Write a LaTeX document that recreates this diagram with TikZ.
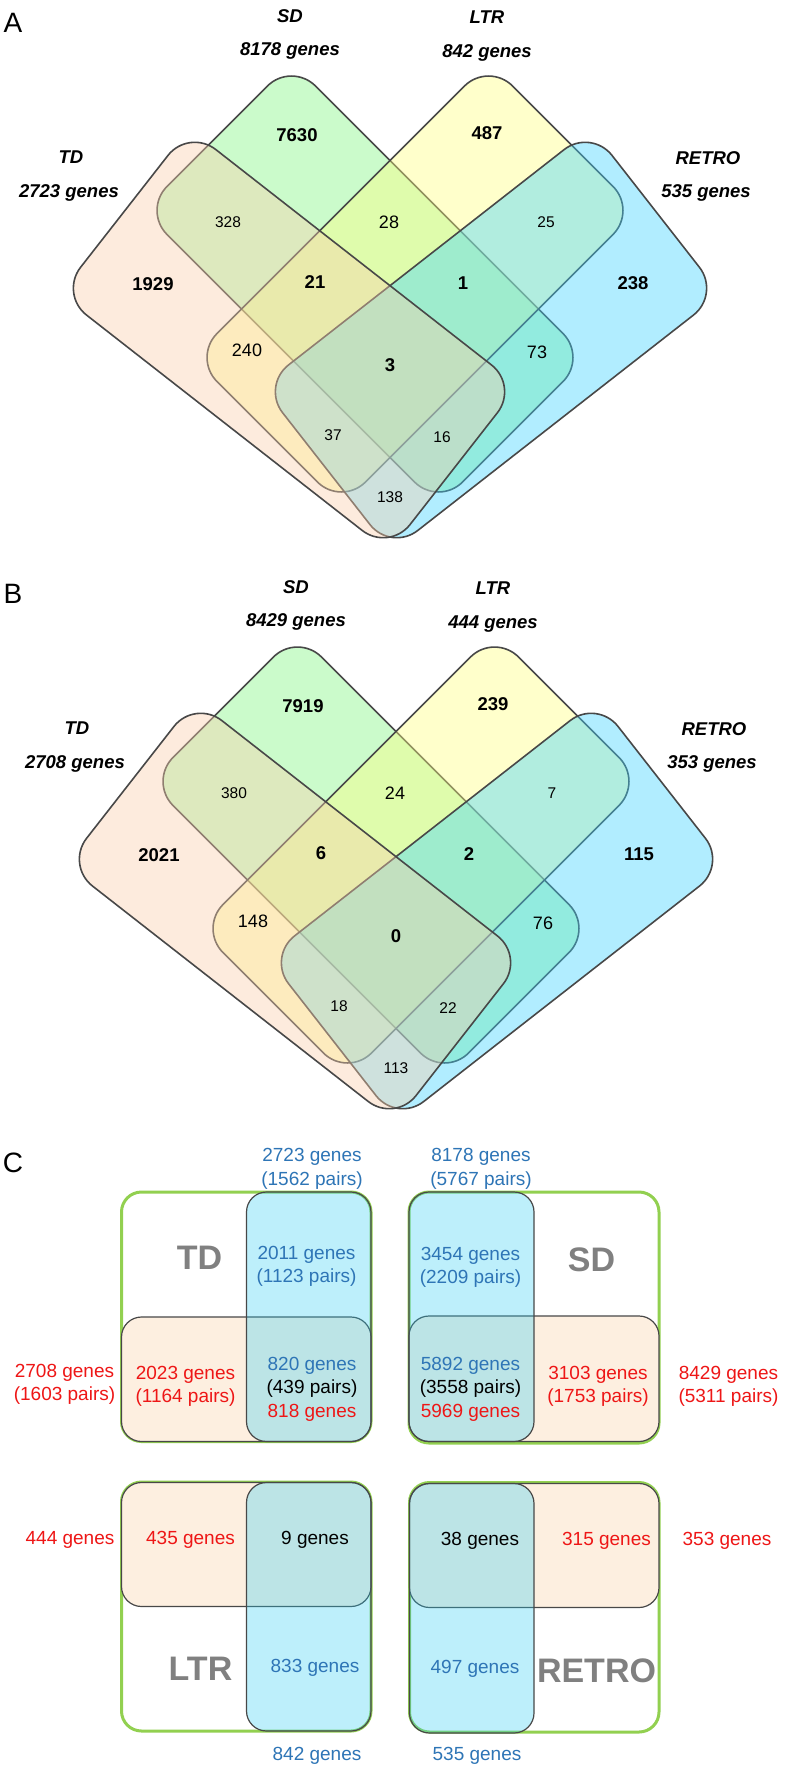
\documentclass[tikz,border=0pt]{standalone}
\usepackage{fontspec}
\setmainfont{Liberation Sans}

\definecolor{edgegray}{RGB}{72,72,72}
\definecolor{tdfill}{RGB}{250,207,172}
\definecolor{sdfill}{RGB}{127,247,127}
\definecolor{ltrfill}{RGB}{255,255,127}
\definecolor{retrofill}{RGB}{62,212,255}
\definecolor{boxgreen}{RGB}{146,208,80}
\definecolor{boxpeach}{RGB}{253,239,224}
\definecolor{boxblue}{RGB}{38,205,245}
\definecolor{txtblue}{RGB}{46,117,182}
\definecolor{txtred}{RGB}{238,22,22}
\definecolor{txtgray}{RGB}{128,128,128}

\tikzset{
  vennset/.style={draw=edgegray, line width=1.6pt, fill opacity=0.4, rounded corners=34pt},
  bignum/.style={font=\fontsize{18.5}{22}\selectfont\bfseries},
  midnum/.style={font=\fontsize{18}{22}\selectfont},
  smallnum/.style={font=\fontsize{15.5}{18}\selectfont},
  setname/.style={font=\fontsize{18.5}{22}\selectfont\bfseries\itshape},
  panelletter/.style={font=\fontsize{28}{32}\selectfont},
  outerbox/.style={draw=boxgreen, line width=3pt, rounded corners=20pt},
  rowbox/.style={draw=edgegray, line width=1.2pt, fill=boxpeach, rounded corners=20pt},
  colbox/.style={draw=edgegray, line width=1.2pt, fill=boxblue, fill opacity=0.3, rounded corners=20pt},
  count/.style={font=\fontsize{19}{23.5}\selectfont, align=center},
  bigname/.style={font=\fontsize{34}{38}\selectfont\bfseries, text=txtgray}
}

% the four rotated sets, drawn for panels A and B
\newcommand{\vennsets}{%
\filldraw[vennset, fill=sdfill, shift={(365,284)}, rotate=-45] (-209,-105) -- (209,-105) -- (209,105) -- (-209,105) -- cycle;
\filldraw[vennset, fill=ltrfill, shift={(415,284)}, rotate=45] (-209,-105) -- (209,-105) -- (209,105) -- (-209,105) -- cycle;
\filldraw[vennset, fill=retrofill, shift={(491,340)}, rotate=38] (-209,-105) -- (209,-105) -- (209,105) -- (-209,105) -- cycle;
\filldraw[vennset, fill=tdfill, shift={(289,340)}, rotate=-38] (-209,-105) -- (209,-105) -- (209,105) -- (-209,105) -- cycle;
}

\begin{document}
\begin{tikzpicture}[x=1pt, y=-1pt]
\fill[white] (0,0) rectangle (786,1766);
\useasboundingbox (0,0) rectangle (786,1766);

% A
\vennsets
\node[panelletter] (labA) at (13,23) {A};
\node[setname] (aSD) at (290,16) {SD};
\node[setname] (aSDn) at (290,51) {8178 genes};
\node[setname] (aLTR) at (487,17) {LTR};
\node[setname] (aLTRn) at (487,53) {842 genes};
\node[setname] (aTD) at (71,157) {TD};
\node[setname] (aTDn) at (69,193) {2723 genes};
\node[setname] (aRETRO) at (708,158) {RETRO};
\node[setname] (aRETROn) at (706,193) {535 genes};
\node[bignum] (aS) at (297,135) {7630};
\node[bignum] (aL) at (487,133) {487};
\node[bignum] (aT) at (153,284) {1929};
\node[bignum] (aTSL) at (315,282) {21};
\node[bignum] (aSLR) at (463,283) {1};
\node[bignum] (aR) at (633,283) {238};
\node[bignum] (aTSLR) at (390,365) {3};
\node[smallnum] (aTS) at (228,222) {328};
\node[midnum] (aSL) at (389,222) {28};
\node[smallnum] (aLR) at (546,222) {25};
\node[midnum] (aTL) at (247,350) {240};
\node[midnum] (aSR) at (537,352) {73};
\node[smallnum] (aTLR) at (333,435) {37};
\node[smallnum] (aTSR) at (442,437) {16};
\node[smallnum] (aTR) at (390,497) {138};

% B
\node[panelletter] (labB) at (13,594) {B};
\begin{scope}[shift={(6,571)}]
\vennsets
\node[setname] (bSD) at (290,16) {SD};
\node[setname] (bSDn) at (290,51) {8429 genes};
\node[setname] (bLTR) at (487,17) {LTR};
\node[setname] (bLTRn) at (487,53) {444 genes};
\node[setname] (bTD) at (71,157) {TD};
\node[setname] (bTDn) at (69,193) {2708 genes};
\node[setname] (bRETRO) at (708,158) {RETRO};
\node[setname] (bRETROn) at (706,193) {353 genes};
\node[bignum] (bS) at (297,135) {7919};
\node[bignum] (bL) at (487,133) {239};
\node[bignum] (bT) at (153,284) {2021};
\node[bignum] (bTSL) at (315,282) {6};
\node[bignum] (bSLR) at (463,283) {2};
\node[bignum] (bR) at (633,283) {115};
\node[bignum] (bTSLR) at (390,365) {0};
\node[smallnum] (bTS) at (228,222) {380};
\node[midnum] (bSL) at (389,222) {24};
\node[smallnum] (bLR) at (546,222) {7};
\node[midnum] (bTL) at (247,350) {148};
\node[midnum] (bSR) at (537,352) {76};
\node[smallnum] (bTLR) at (333,435) {18};
\node[smallnum] (bTSR) at (442,437) {22};
\node[smallnum] (bTR) at (390,497) {113};
\end{scope}

% C
\node[panelletter] (labC) at (13,1163) {C};
\draw[outerbox] (121.5,1192) rectangle (371,1441.5);
\draw[rowbox] (121.5,1317) rectangle (371,1441.5);
\draw[colbox] (246.5,1192) rectangle (371,1441.5);
\draw[outerbox] (409,1192) rectangle (659,1443);
\draw[rowbox] (409,1316) rectangle (659,1441.5);
\draw[colbox] (409,1192) rectangle (534,1441.5);
\draw[outerbox] (121.5,1482) rectangle (371,1731);
\draw[rowbox] (121.5,1482.5) rectangle (371,1606.5);
\draw[colbox] (246.5,1482.5) rectangle (371,1731);
\draw[outerbox] (409.5,1482.5) rectangle (659,1732);
\draw[rowbox] (409.5,1483.5) rectangle (659,1607.5);
\draw[colbox] (409.5,1483.5) rectangle (534,1733);

\node[count, text=txtblue] (cTDall) at (312,1169) {2723 genes\\(1562 pairs)};
\node[count, text=txtblue] (cSDall) at (481,1169) {8178 genes\\(5767 pairs)};
\node[bigname] (cTD) at (199.5,1258) {TD};
\node[count, text=txtblue] (cTDonly) at (306.5,1266.5) {2011 genes\\(1123 pairs)};
\node[count, text=txtblue] (cTDboth) at (312,1389) {820 genes\\\textcolor{black}{(439 pairs)}\\\textcolor{txtred}{818 genes}};
\node[count, text=txtred] (cTDnew) at (185.5,1386.5) {2023 genes\\(1164 pairs)};
\node[count, text=txtred] (cTDnewall) at (64.5,1384.5) {2708 genes\\(1603 pairs)};
\node[bigname] (cSD) at (591.5,1260) {SD};
\node[count, text=txtblue] (cSDonly) at (470.5,1267.5) {3454 genes\\(2209 pairs)};
\node[count, text=txtblue] (cSDboth) at (470.5,1389) {5892 genes\\\textcolor{black}{(3558 pairs)}\\\textcolor{txtred}{5969 genes}};
\node[count, text=txtred] (cSDnew) at (598,1386.5) {3103 genes\\(1753 pairs)};
\node[count, text=txtred] (cSDnewall) at (728.5,1386.5) {8429 genes\\(5311 pairs)};
\node[count, text=txtred] (cLTRnewall) at (70,1540) {444 genes};
\node[count, text=txtred] (cLTRnew) at (190.5,1540) {435 genes};
\node[count] (cLTRboth) at (315,1540) {9 genes};
\node[bigname] (cLTR) at (200.5,1669) {LTR};
\node[count, text=txtblue] (cLTRonly) at (315,1668) {833 genes};
\node[count, text=txtblue] (cLTRall) at (317,1756) {842 genes};
\node[count] (cRETROboth) at (480,1541) {38 genes};
\node[count, text=txtred] (cRETROnew) at (606.5,1541) {315 genes};
\node[count, text=txtred] (cRETROnewall) at (727,1541) {353 genes};
\node[count, text=txtblue] (cRETROonly) at (475,1669) {497 genes};
\node[bigname] (cRETRO) at (596.5,1671) {RETRO};
\node[count, text=txtblue] (cRETROall) at (477,1756) {535 genes};
\end{tikzpicture}
\end{document}
